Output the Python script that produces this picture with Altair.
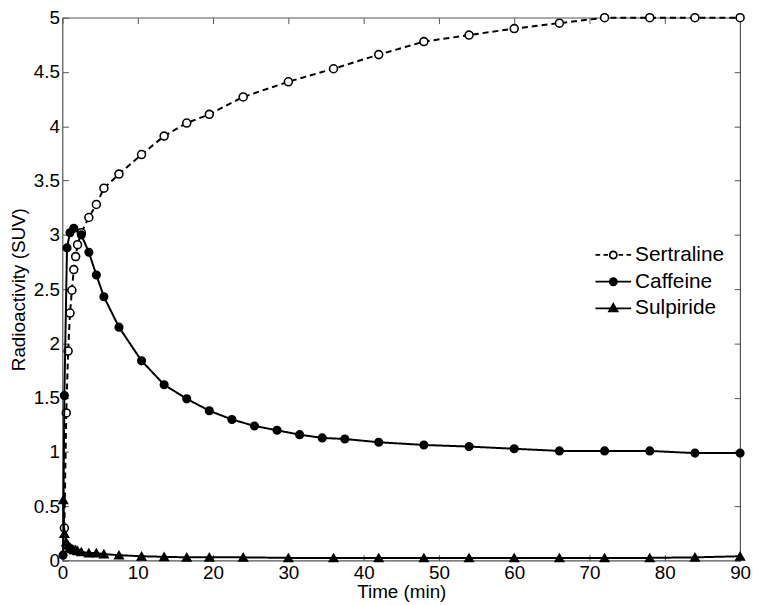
import altair as alt
import pandas as pd

# ---------------- data ----------------
sert_t = [0.25, 0.5, 0.75, 1.0, 1.25, 1.5, 1.75, 2.0, 2.5, 3.5, 4.5, 5.5, 7.5, 10.5,
          13.5, 16.5, 19.5, 24, 30, 36, 42, 48, 54, 60, 66, 72, 78, 84, 90]
sert_v = [0.30, 1.36, 1.93, 2.28, 2.49, 2.68, 2.80, 2.91, 3.02, 3.16, 3.28, 3.43, 3.56, 3.74,
          3.91, 4.03, 4.11, 4.27, 4.41, 4.53, 4.66, 4.78, 4.84, 4.90, 4.95, 5.0, 5.0, 5.0, 5.0]

caf_t = [0.08, 0.25, 0.6, 1.0, 1.5, 2.5, 3.5, 4.5, 5.5, 7.5, 10.5, 13.5, 16.5, 19.5,
         22.5, 25.5, 28.5, 31.5, 34.5, 37.5, 42, 48, 54, 60, 66, 72, 78, 84, 90]
caf_v = [0.05, 1.52, 2.88, 3.02, 3.06, 3.00, 2.84, 2.63, 2.43, 2.15, 1.84, 1.62, 1.49, 1.38,
         1.30, 1.24, 1.20, 1.16, 1.13, 1.12, 1.09, 1.065, 1.05, 1.03, 1.01, 1.01, 1.01, 0.99, 0.99]

sul_t = [0.1, 0.25, 0.5, 0.75, 1.0, 1.25, 1.5, 1.75, 2.0, 2.5, 3.5, 4.5, 5.5, 7.5, 10.5,
         13.5, 16.5, 19.5, 24, 30, 36, 42, 48, 54, 60, 66, 72, 78, 84, 90]
sul_v = [0.56, 0.25, 0.17, 0.14, 0.12, 0.11, 0.10, 0.10, 0.09, 0.08, 0.07, 0.07, 0.06, 0.05, 0.04,
         0.035, 0.03, 0.03, 0.03, 0.025, 0.025, 0.025, 0.025, 0.025, 0.025, 0.025, 0.025, 0.025, 0.03, 0.04]

series_names = ["Sertraline", "Caffeine", "Sulpiride"]
x_ticks = [0, 10, 20, 30, 40, 50, 60, 70, 80, 90]
y_ticks = [0, 0.5, 1, 1.5, 2, 2.5, 3, 3.5, 4, 4.5, 5]

df = pd.concat([
    pd.DataFrame({"t": sert_t, "v": sert_v, "series": "Sertraline"}),
    pd.DataFrame({"t": caf_t, "v": caf_v, "series": "Caffeine"}),
    pd.DataFrame({"t": sul_t, "v": sul_v, "series": "Sulpiride"}),
], ignore_index=True)

FONT = "Liberation Sans"
FS = 19

xscale = alt.Scale(domain=[0, 90], nice=False, zero=False)
yscale = alt.Scale(domain=[0, 5], nice=False)

x_main = alt.X("t:Q", scale=xscale, axis=alt.Axis(
    values=x_ticks, title="Time (min)", tickSize=6, offset=-6, domain=False, grid=False,
    labelPadding=3, titlePadding=0, format="d", labelFlush=False))
y_main = alt.Y("v:Q", scale=yscale, axis=alt.Axis(
    values=y_ticks, title="Radioactivity (SUV)", tickSize=6, offset=-6, domain=False, grid=False,
    labelPadding=3, titlePadding=5, format=".2~f", labelFlush=False))
x_none = alt.X("t:Q", scale=xscale, axis=None)
y_none = alt.Y("v:Q", scale=yscale, axis=None)

base = alt.Chart(df)

layers = []
styles = {
    "Sertraline": dict(dash=[6, 4], shape="circle", fill="white", size=64),
    "Caffeine": dict(dash=[1, 0], shape="circle", fill="black", size=58),
    "Sulpiride": dict(dash=[1, 0], shape="triangle-up", fill="black", size=72),
}
first = True
for s in series_names:
    st = styles[s]
    sub = base.transform_filter(alt.datum.series == s)
    line = sub.mark_line(color="black", strokeWidth=2, strokeDash=st["dash"]).encode(
        x=x_main if first else x_none, y=y_main if first else y_none)
    first = False
    pts = sub.mark_point(shape=st["shape"], fill=st["fill"], stroke="black", strokeWidth=1.6,
                         size=st["size"], opacity=1, filled=False, fillOpacity=1).encode(
        x=x_none, y=y_none)
    layers += [line, pts]

# legend layer (empty data, explicit domains) + top/right tick axes
p_sert = ("M-1,0L-0.74,0M-0.55,0L-0.3,0M0.3,0L0.55,0M0.74,0L1,0"
          "M0.2,0A0.2,0.2,0,1,1,-0.2,0A0.2,0.2,0,1,1,0.2,0Z")
p_caf = "M-1,0L1,0M0.2,0A0.2,0.2,0,1,1,-0.2,0A0.2,0.2,0,1,1,0.2,0Z"
p_sul = "M-1,0L1,0M0,-0.26L0.24,0.16L-0.24,0.16Z"
leg = alt.Legend(title=None, orient="none", legendX=537, legendY=227, labelFont=FONT,
                 labelFontSize=21, labelColor="black", symbolSize=1296, symbolStrokeWidth=1.8,
                 labelOffset=3, rowPadding=2, padding=0, clipHeight=25)
legend_layer = base.transform_filter("datum.t < -1").mark_point(opacity=1, filled=True).encode(
    x=alt.X("t:Q", scale=xscale, axis=alt.Axis(orient="top", values=x_ticks, labels=False, title=None,
                                                tickSize=6, offset=-6, domain=False, grid=False)),
    y=alt.Y("v:Q", scale=yscale, axis=alt.Axis(orient="right", values=y_ticks, labels=False, title=None,
                                                tickSize=6, offset=-6, domain=False, grid=False)),
    shape=alt.Shape("series:N", scale=alt.Scale(domain=series_names, range=[p_sert, p_caf, p_sul]), legend=leg),
    fill=alt.Fill("series:N", scale=alt.Scale(domain=series_names, range=["white", "black", "black"]), legend=leg),
    stroke=alt.Stroke("series:N", scale=alt.Scale(domain=series_names, range=["black", "black", "black"]), legend=leg),
)
layers.append(legend_layer)

chart = alt.layer(*layers).resolve_axis(x="independent", y="independent").properties(
    width=684, height=548,
    background="white",
    autosize=alt.AutoSizeParams(type="none"),
    padding={"left": 55, "top": 7, "right": 12, "bottom": 40},
).configure_view(stroke="#555555", strokeWidth=1.2).configure_axis(
    labelFont=FONT, titleFont=FONT, labelFontSize=FS, titleFontSize=19, labelColor="black",
    titleColor="black", titleFontWeight="normal", tickColor="#555555", tickWidth=1
)

chart.save("out.html", embed_options={"renderer": "svg", "actions": False})
